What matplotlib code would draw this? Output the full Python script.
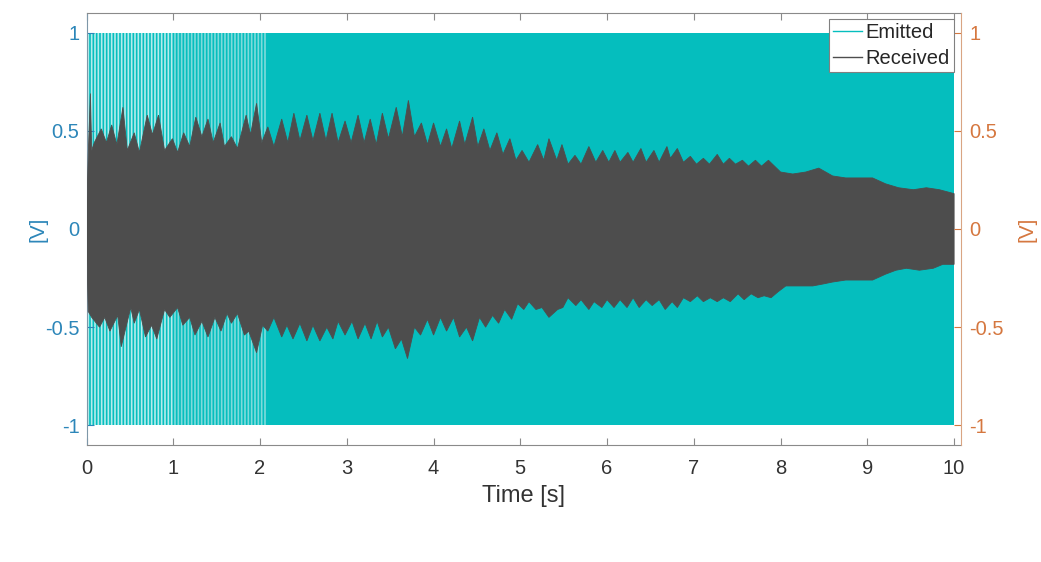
import numpy as np
import matplotlib
matplotlib.use('Agg')
import matplotlib.pyplot as plt
from matplotlib.lines import Line2D

plt.rcParams['font.family'] = ['Liberation Sans', 'DejaVu Sans']
plt.rcParams['axes.unicode_minus'] = False
plt.rcParams['hatch.linewidth'] = 1.2

# ---------------- data ----------------
time_ticks = [0, 1, 2, 3, 4, 5, 6, 7, 8, 9, 10]
volt_ticks = [-1, -0.5, 0, 0.5, 1]
volt_labels = ['-1', '-0.5', '0', '0.5', '1']

# Emitted chirp: full-scale band (+/-1 V) over the 10 s record
emitted_t = [0.0, 10.0]
emitted_hi = [1.0, 1.0]
emitted_lo = [-1.0, -1.0]
# spans where individual chirp cycles are still resolved (light stripes)
emitted_resolved_spans = [(0.0, 1.0), (1.0, 2.08)]

# Received signal envelope
received_upper_t = [0.00, 0.02, 0.045, 0.06, 0.09, 0.17, 0.23, 0.29, 0.35, 0.42, 0.47, 0.55, 0.61,
                    0.70, 0.76, 0.83, 0.90, 0.99, 1.05, 1.12, 1.19, 1.26, 1.33, 1.40, 1.46,
                    1.54, 1.59, 1.67, 1.74, 1.84, 1.89, 1.96, 2.02, 2.09, 2.16, 2.25, 2.32,
                    2.39, 2.46, 2.54, 2.61, 2.69, 2.76, 2.83, 2.90, 2.98, 3.05, 3.13, 3.20,
                    3.27, 3.34, 3.41, 3.48, 3.57, 3.64, 3.71, 3.78, 3.86, 3.93, 4.00, 4.08,
                    4.15, 4.21, 4.30, 4.36, 4.45, 4.51, 4.58, 4.65, 4.73, 4.80, 4.88, 4.95,
                    5.02, 5.10, 5.20, 5.27, 5.33, 5.42, 5.48, 5.55, 5.63, 5.70, 5.79, 5.87,
                    5.95, 6.02, 6.09, 6.15, 6.24, 6.30, 6.39, 6.45, 6.54, 6.60, 6.69, 6.73,
                    6.81, 6.88, 6.96, 7.03, 7.11, 7.18, 7.27, 7.34, 7.41, 7.48, 7.56, 7.63,
                    7.71, 7.78, 7.86, 8.00, 8.14, 8.29, 8.44, 8.60, 8.75, 8.90, 9.06, 9.21,
                    9.36, 9.53, 9.68, 9.83, 10.00]
received_upper_v = [0.05, 0.38, 0.69, 0.40, 0.44, 0.51, 0.44, 0.53, 0.43, 0.62, 0.40, 0.49, 0.39,
                    0.58, 0.48, 0.58, 0.40, 0.46, 0.39, 0.49, 0.42, 0.57, 0.47, 0.56, 0.44,
                    0.54, 0.42, 0.47, 0.41, 0.58, 0.48, 0.64, 0.44, 0.52, 0.42, 0.56, 0.44,
                    0.59, 0.45, 0.58, 0.45, 0.59, 0.45, 0.59, 0.44, 0.55, 0.44, 0.58, 0.44,
                    0.56, 0.43, 0.59, 0.46, 0.62, 0.47, 0.655, 0.47, 0.54, 0.43, 0.54, 0.42,
                    0.51, 0.41, 0.55, 0.43, 0.57, 0.42, 0.51, 0.40, 0.49, 0.38, 0.46, 0.35,
                    0.40, 0.34, 0.43, 0.35, 0.46, 0.35, 0.43, 0.33, 0.375, 0.33, 0.42, 0.34,
                    0.40, 0.34, 0.40, 0.34, 0.39, 0.34, 0.41, 0.34, 0.40, 0.34, 0.42, 0.36,
                    0.41, 0.34, 0.37, 0.33, 0.36, 0.33, 0.38, 0.33, 0.36, 0.33, 0.35, 0.32,
                    0.35, 0.32, 0.35, 0.29, 0.28, 0.29, 0.31, 0.27, 0.26, 0.26, 0.26, 0.23,
                    0.21, 0.20, 0.21, 0.20, 0.18]
received_lower_t = [0.00, 0.02, 0.06, 0.15, 0.21, 0.27, 0.36, 0.40, 0.51, 0.55, 0.61, 0.68, 0.75,
                    0.81, 0.90, 0.96, 1.05, 1.11, 1.19, 1.25, 1.33, 1.40, 1.48, 1.55, 1.62,
                    1.67, 1.74, 1.82, 1.87, 1.96, 2.03, 2.09, 2.16, 2.25, 2.31, 2.38, 2.46,
                    2.54, 2.61, 2.69, 2.77, 2.84, 2.90, 2.98, 3.06, 3.13, 3.21, 3.28, 3.35,
                    3.41, 3.48, 3.56, 3.63, 3.70, 3.78, 3.85, 3.93, 4.00, 4.08, 4.15, 4.23,
                    4.30, 4.38, 4.45, 4.53, 4.60, 4.68, 4.75, 4.82, 4.90, 4.97, 5.04, 5.10,
                    5.18, 5.25, 5.33, 5.43, 5.49, 5.55, 5.64, 5.70, 5.79, 5.85, 5.94, 6.00,
                    6.08, 6.15, 6.23, 6.30, 6.37, 6.45, 6.52, 6.60, 6.67, 6.75, 6.81, 6.88,
                    6.96, 7.04, 7.11, 7.19, 7.27, 7.34, 7.42, 7.51, 7.58, 7.66, 7.74, 7.81,
                    7.89, 7.97, 8.06, 8.21, 8.37, 8.49, 8.60, 8.75, 8.90, 9.06, 9.21, 9.33,
                    9.45, 9.60, 9.76, 9.87, 10.00]
received_lower_v = [-0.05, -0.42, -0.45, -0.50, -0.45, -0.52, -0.44, -0.60, -0.40, -0.48, -0.41,
                    -0.55, -0.49, -0.56, -0.41, -0.45, -0.40, -0.49, -0.45, -0.54, -0.47,
                    -0.55, -0.45, -0.52, -0.43, -0.48, -0.43, -0.54, -0.52, -0.63, -0.49,
                    -0.52, -0.45, -0.55, -0.49, -0.56, -0.48, -0.57, -0.49, -0.57, -0.50,
                    -0.56, -0.47, -0.54, -0.47, -0.56, -0.48, -0.56, -0.47, -0.55, -0.50,
                    -0.61, -0.56, -0.66, -0.50, -0.54, -0.46, -0.54, -0.45, -0.52, -0.45,
                    -0.55, -0.50, -0.57, -0.45, -0.50, -0.44, -0.48, -0.41, -0.46, -0.38,
                    -0.41, -0.37, -0.41, -0.40, -0.45, -0.41, -0.40, -0.35, -0.39, -0.36,
                    -0.41, -0.37, -0.40, -0.36, -0.40, -0.36, -0.40, -0.35, -0.40, -0.36,
                    -0.39, -0.36, -0.41, -0.37, -0.40, -0.35, -0.37, -0.34, -0.37, -0.35,
                    -0.37, -0.35, -0.37, -0.33, -0.36, -0.33, -0.35, -0.34, -0.35, -0.32,
                    -0.29, -0.29, -0.29, -0.28, -0.27, -0.26, -0.26, -0.26, -0.23, -0.21,
                    -0.20, -0.21, -0.20, -0.18, -0.18]

# ---------------- style ----------------
C_EMIT = '#05BEBE'
C_RECV = '#4D4D4D'
C_LEFT = '#2C86B9'
C_RIGHT = '#D5773F'
C_AX = '#8A8A8A'

fig = plt.figure(figsize=(10.41, 5.62), dpi=100)
ax1 = fig.add_axes([0.0831, 0.2082, 0.8401, 0.7687])
ax2 = ax1.twinx()

# Emitted
ax1.fill_between(emitted_t, emitted_lo, emitted_hi, color=C_EMIT, linewidth=0)
stripe_colors = ['#B5ECEC', '#7FDBDB']
for (a, b), sc in zip(emitted_resolved_spans, stripe_colors):
    ax1.fill_between([a, b], [emitted_lo[0]] * 2, [emitted_hi[0]] * 2,
                     facecolor='none', edgecolor=sc, hatch='|||||', linewidth=0)

# Received
poly_t = np.concatenate([received_upper_t, received_lower_t[::-1]])
poly_v = np.concatenate([received_upper_v, received_lower_v[::-1]])
ax2.fill(poly_t, poly_v, color=C_RECV, linewidth=0.6, edgecolor=C_RECV)

ax1.set_xlim(0, 10.08)
ax1.set_ylim(-1.1, 1.1)
ax2.set_ylim(-1.1, 1.1)

ax1.set_xticks(time_ticks)
ax1.set_xticklabels([str(t) for t in time_ticks])
ax1.set_yticks(volt_ticks)
ax1.set_yticklabels(volt_labels)
ax2.set_yticks(volt_ticks)
ax2.set_yticklabels(volt_labels)

ax1.tick_params(axis='x', direction='in', top=True, bottom=True, length=5, width=0.8,
                color=C_AX, labelsize=14.5, labelcolor='#333333', pad=10)
ax1.tick_params(axis='y', direction='in', left=True, right=False, length=5, width=0.8,
                color=C_LEFT, labelsize=14.5, labelcolor=C_LEFT, pad=5)
ax2.tick_params(axis='y', direction='in', right=True, left=False, length=5, width=0.8,
                color=C_RIGHT, labelsize=14.5, labelcolor=C_RIGHT, pad=6)

for s in ['top', 'bottom']:
    ax1.spines[s].set_color(C_AX)
ax1.spines['left'].set_color('#7E97A8')
ax1.spines['right'].set_visible(False)
for s in ['top', 'bottom', 'left']:
    ax2.spines[s].set_visible(False)
ax2.spines['right'].set_color('#D9A583')

ax1.set_xlabel('Time [s]', fontsize=17, color='#333333')
ax1.xaxis.set_label_coords(0.5, -0.092)
ax1.set_ylabel('[V]', fontsize=15, color=C_LEFT)
ax1.yaxis.set_label_coords(-0.0445, 0.5)
ax2.set_ylabel('[V]', fontsize=15, color=C_RIGHT, rotation=90)
ax2.yaxis.set_label_coords(1.064, 0.5)

handles = [Line2D([], [], color=C_EMIT, lw=1), Line2D([], [], color=C_RECV, lw=1)]
leg = ax2.legend(handles, ['Emitted', 'Received'], loc='upper right',
                 bbox_to_anchor=(0.992, 0.986), borderaxespad=0, fontsize=14.5,
                 handlelength=1.45, handletextpad=0.2, borderpad=0.2,
                 labelspacing=0.35, fancybox=False, framealpha=1)
leg.get_frame().set_edgecolor('#808080')
leg.get_frame().set_linewidth(0.8)
for t in leg.get_texts():
    t.set_color('#262626')

fig.savefig('out.png', dpi=100)
